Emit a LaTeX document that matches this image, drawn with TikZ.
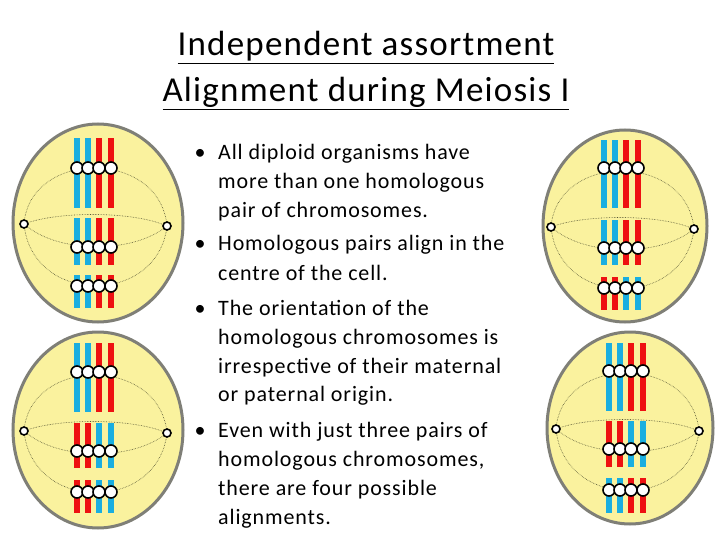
\documentclass[tikz,border=0pt]{standalone}
\usepackage{fontspec}
\setmainfont{Carlito}
\definecolor{cb}{HTML}{1AAEE0}
\definecolor{cr}{HTML}{EE1111}
\definecolor{cy}{HTML}{FAF29E}
\definecolor{cg}{HTML}{7F7F77}
\definecolor{sp}{HTML}{555533}
\tikzset{x=1pt,y=-1pt,
 cellbody/.style={fill=cy,draw=cg,line width=3pt},
 spindle/.style={sp,densely dotted,line width=0.6pt},
 cen/.style={circle,draw=black,fill=white,line width=1.6pt,minimum size=12pt,inner sep=0pt},
 pole/.style={circle,draw=black,fill=white,line width=1.6pt,minimum size=8pt,inner sep=0pt},
 txt/.style={anchor=base west,font=\fontsize{22}{24}\selectfont\addfontfeature{LetterSpace=4},inner sep=0pt},
 bul/.style={anchor=base,font=\fontsize{22}{24}\selectfont,inner sep=0pt},
 ttl/.style={anchor=base,font=\fontsize{35}{38}\selectfont\addfontfeature{LetterSpace=3.5},inner sep=0pt}}
\newcommand\mypair[5]{%
 \foreach \xx in {-21,-10}{\fill[#4] (\xx-2.6,#1) rectangle (\xx+2.6,#2);}
 \foreach \xx in {1,13}{\fill[#5] (\xx-2.6,#1) rectangle (\xx+2.6,#2);}
 \foreach \xx in {-21,-10,1,13}{\node[cen] at (\xx,#3) {};}}
\newcommand\mycell[5]{%
 \begin{scope}[shift={(#1,#2)}]
 \draw[cellbody] (0,0) ellipse[x radius=#3, y radius=#4];
 \coordinate (L) at (-74,1); \coordinate (R) at (69,3);
 \draw[spindle] (L) .. controls (-68,-74) and (62,-74) .. (R);
 \draw[spindle] (L) .. controls (-40,-12) and (35,-12) .. (R);
 \draw[spindle] (L) .. controls (-40,31) and (35,31) .. (R);
 \draw[spindle] (L) .. controls (-66,83) and (60,83) .. (R);
 #5
 \node[pole] (pl) at (L) {}; \node[pole] (pr) at (R) {};
 \end{scope}}
\begin{document}
\begin{tikzpicture}
\useasboundingbox (0,0) rectangle (720,540);
\fill[white] (0,0) rectangle (720,540);
\node[ttl] (t1) at (366,56) {\underline{Independent assortment}};
\node[ttl] (t2) at (366,102) {\underline{Alignment during Meiosis I}};
\mycell{98}{223}{85}{99}{\mypair{-85}{-15}{-55}{cb}{cr}\mypair{-5}{42}{24}{cb}{cr}\mypair{52}{85}{63}{cb}{cr}}
\mycell{625}{226}{82}{96}{\mypair{-86}{-18}{-58}{cb}{cr}\mypair{-6}{39}{22}{cb}{cr}\mypair{51}{84}{62}{cr}{cb}}
\mycell{98}{430}{85}{98}{\mypair{-87}{-18}{-58}{cb}{cr}\mypair{-7}{38}{21}{cr}{cb}\mypair{50}{83}{62}{cr}{cb}}
\mycell{630}{428}{83}{96}{\mypair{-85}{-17}{-57}{cb}{cr}\mypair{-7}{39}{21}{cr}{cb}\mypair{50}{85}{62}{cb}{cr}}
\foreach \y/\s [count=\i] in {160/All diploid organisms have,189/more than one homologous,218/pair of chromosomes.,251/Homologous pairs align in the,280/centre of the cell.,315/The orientation of the,344/homologous chromosomes is,373/irrespective of their maternal,401/or paternal origin.,437/Even with just three pairs of,466/{homologous chromosomes,},495/there are four possible,524/alignments.}
 \node[txt] (l\i) at (218,\y) {\s};
\foreach \y [count=\i] in {160,251,315,437} \node[bul] (b\i) at (200,\y) {•};
\end{tikzpicture}
\end{document}
